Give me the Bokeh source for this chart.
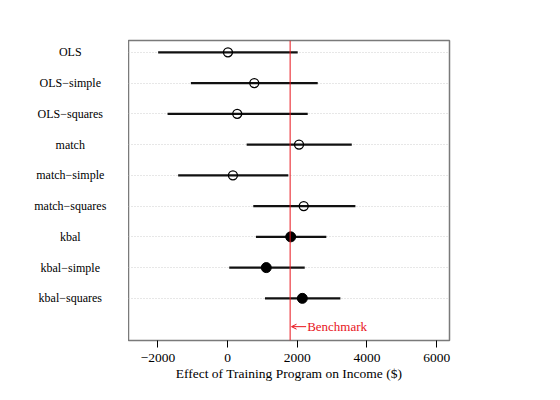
from bokeh.plotting import figure
from bokeh.layouts import row as bk_row
from bokeh.models import Range1d, FixedTicker, Span, Label, ColumnDataSource, Arrow, OpenHead
from bokeh.core.properties import value
from bokeh.embed import file_html
from bokeh.resources import INLINE

methods = ["OLS", "OLS\u2212simple", "OLS\u2212squares", "match", "match\u2212simple",
           "match\u2212squares", "kbal", "kbal\u2212simple", "kbal\u2212squares"]
estimates = [10, 765, 276, 2049, 152, 2184, 1810, 1109, 2144]
lower = [-1994, -1055, -1724, 546, -1420, 736, 813, 46, 1072]
upper = [2011, 2586, 2299, 3563, 1742, 3667, 2833, 2213, 3236]
filled = [False, False, False, False, False, False, True, True, True]
benchmark = 1794
x_ticks = [-2000, 0, 2000, 4000, 6000]
x_tick_labels = ["\u22122000", "0", "2000", "4000", "6000"]

rows = list(range(1, len(methods) + 1))
SERIF = "Liberation Serif"

x_start, x_end = -2845, 6368
frame_w, frame_h = 321, 300
top_b, bot_b = 40, 44
left_w = 128

src = ColumnDataSource(dict(row=rows, method=methods, est=estimates, lo=lower, hi=upper))

# label column (left)
lab = figure(frame_width=left_w, frame_height=frame_h,
             min_border_left=0, min_border_right=0, min_border_top=top_b, min_border_bottom=bot_b,
             x_range=Range1d(0, 1), y_range=Range1d(10.37, 0.615),
             x_axis_location=None, y_axis_location=None,
             output_backend="svg", toolbar_location=None)
lab.outline_line_color = None
lab.grid.visible = False
lab.text(x=0.545, y="row", text="method", source=src, text_align="center",
         text_baseline="middle", text_font=value(SERIF), text_font_size="12px",
         text_color="black")

p = figure(frame_width=frame_w, frame_height=frame_h,
           min_border_left=0, min_border_right=95, min_border_top=top_b, min_border_bottom=bot_b,
           x_range=Range1d(x_start, x_end), y_range=Range1d(10.37, 0.615),
           y_axis_location=None, output_backend="svg", toolbar_location=None)

p.background_fill_color = "white"
p.border_fill_color = "white"
p.outline_line_color = "#7a7a7a"
p.outline_line_width = 1.5

p.xgrid.visible = False
p.ygrid.ticker = FixedTicker(ticks=rows)
p.ygrid.grid_line_color = "#cfcfcf"
p.ygrid.grid_line_dash = "1 2"
p.ygrid.grid_line_width = 1

p.segment(x0="lo", y0="row", x1="hi", y1="row", source=src, line_color="#111111", line_width=2.2)

open_src = ColumnDataSource(dict(
    row=[r for r, f in zip(rows, filled) if not f],
    est=[e for e, f in zip(estimates, filled) if not f]))
fill_src = ColumnDataSource(dict(
    row=[r for r, f in zip(rows, filled) if f],
    est=[e for e, f in zip(estimates, filled) if f]))
p.scatter(x="est", y="row", source=open_src, size=9, fill_color=None,
          line_color="black", line_width=1.3)
p.scatter(x="est", y="row", source=fill_src, size=10, fill_color="black",
          line_color="black", line_width=1)

p.add_layout(Span(location=benchmark, dimension="height", line_color="#e8141c", line_width=1))

arrow_len = 16 * (x_end - x_start) / frame_w   # 16 px arrow, in data units
label_y = 9.92
p.add_layout(Arrow(end=OpenHead(size=5, line_color="#e8141c", line_width=1),
                   x_start=benchmark + arrow_len, y_start=label_y,
                   x_end=benchmark + 40, y_end=label_y,
                   line_color="#e8141c", line_width=1))
p.add_layout(Label(x=benchmark + arrow_len, y=label_y, x_offset=1, text="Benchmark",
                   text_color="#e8141c", text_font=SERIF, text_font_size="13px",
                   text_align="left", text_baseline="middle"))

ax = p.xaxis[0]
ax.ticker = FixedTicker(ticks=x_ticks)
ax.major_label_overrides = {t: l for t, l in zip(x_ticks, x_tick_labels)}
ax.minor_tick_line_color = None
ax.major_tick_out = 7
ax.major_tick_in = 0
ax.major_tick_line_color = "black"
ax.axis_line_color = None
ax.major_label_text_font = SERIF
ax.major_label_text_font_size = "13.5px"
ax.major_label_text_color = "black"
ax.major_label_standoff = 6
ax.axis_label = "Effect of Training Program on Income ($)"
ax.axis_label_text_font = SERIF
ax.axis_label_text_font_size = "13.5px"
ax.axis_label_text_font_style = "normal"
ax.axis_label_text_color = "black"
ax.axis_label_standoff = 1

layout = bk_row(lab, p, spacing=0)
open("out.html", "w").write(file_html(layout, INLINE))
